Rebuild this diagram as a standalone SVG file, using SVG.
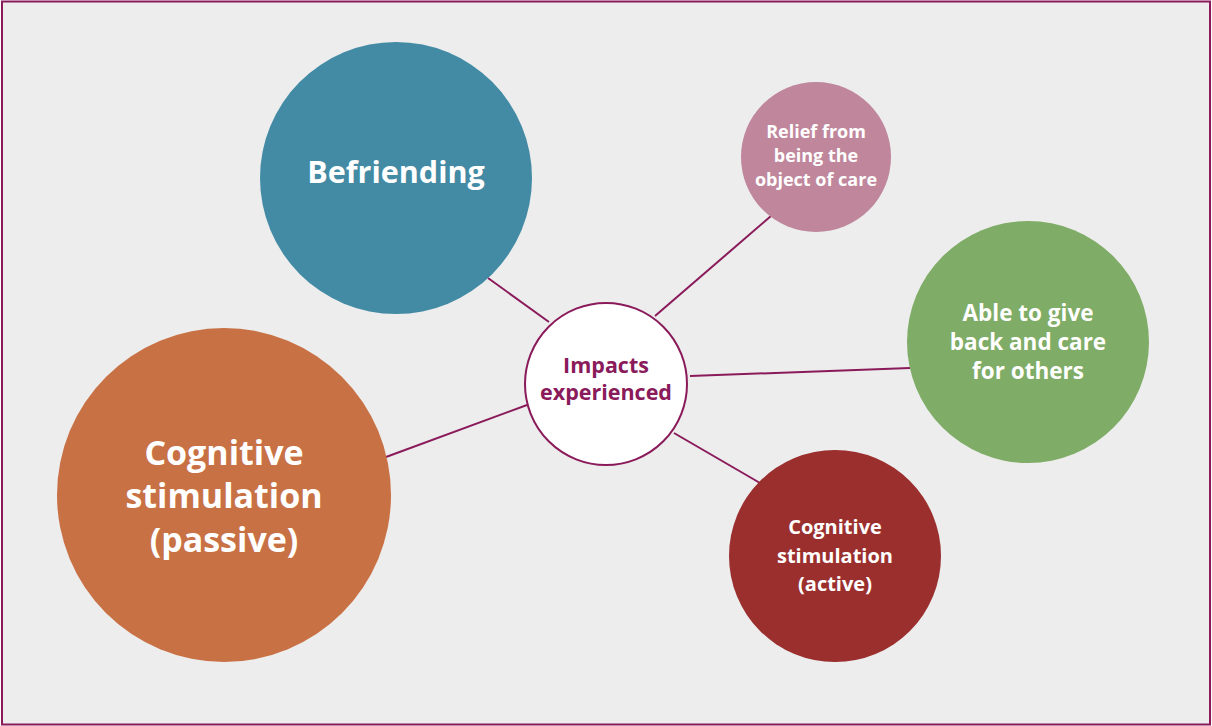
<svg xmlns="http://www.w3.org/2000/svg" width="1212" height="726" viewBox="0 0 1212 726">
<style>
text{font-family:"Open Sans","Noto Sans","Liberation Sans",sans-serif;font-weight:bold;text-anchor:middle}
.w{fill:#ffffff}
.m{fill:#8a1a5a}
.c{stroke:#8a1a5a;stroke-width:2;fill:none}
</style>
<rect x="2" y="1.5" width="1208" height="723" fill="#ededed" stroke="#8a1a5a" stroke-width="2"/>
<g id="connectors" class="c">
<line x1="488" y1="278" x2="549" y2="322"/>
<line x1="771" y1="216" x2="655" y2="316"/>
<line x1="690" y1="376" x2="910" y2="368"/>
<line x1="674" y1="433" x2="760" y2="483"/>
<line x1="386" y1="457" x2="527" y2="405"/>
</g>
<g id="befriending">
<circle cx="396" cy="178" r="136" fill="#438ba5"/>
<text class="w" x="396" y="183" font-size="30.5">Befriending</text>
</g>
<g id="passive">
<circle cx="224" cy="495" r="167" fill="#c87145"/>
<text class="w" font-size="34"><tspan x="224" y="465">Cognitive</tspan><tspan x="224" y="508">stimulation</tspan><tspan x="224" y="552">(passive)</tspan></text>
</g>
<g id="relief">
<circle cx="816" cy="157" r="75" fill="#bf869c"/>
<text class="w" font-size="18"><tspan x="816" y="138">Relief from</tspan><tspan x="816" y="162">being the</tspan><tspan x="816" y="186">object of care</tspan></text>
</g>
<g id="give">
<circle cx="1028" cy="342" r="121" fill="#7fac66"/>
<text class="w" font-size="22.5"><tspan x="1028" y="321">Able to give</tspan><tspan x="1028" y="350">back and care</tspan><tspan x="1028" y="379">for others</tspan></text>
</g>
<g id="active">
<circle cx="835" cy="556" r="106" fill="#9a2f2e"/>
<text class="w" font-size="20"><tspan x="835" y="534">Cognitive</tspan><tspan x="835" y="563">stimulation</tspan><tspan x="835" y="591">(active)</tspan></text>
</g>
<g id="center">
<circle cx="606" cy="384" r="81" fill="#ffffff" stroke="#8a1a5a" stroke-width="2"/>
<text class="m" font-size="21.5"><tspan x="606" y="373">Impacts</tspan><tspan x="606" y="400">experienced</tspan></text>
</g>
</svg>
